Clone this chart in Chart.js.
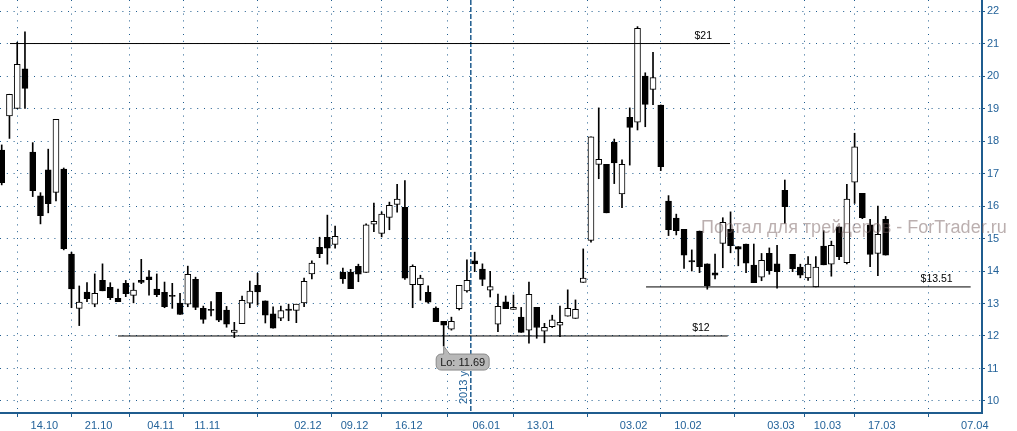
<!DOCTYPE html>
<html>
<head>
<meta charset="utf-8">
<script src="https://cdn.jsdelivr.net/npm/chart.js@4.4.1/dist/chart.umd.min.js"></script>
<style>
  html, body { margin: 0; padding: 0; background: #fff; }
  #wrap { width: 1017px; height: 431px; }
</style>
</head>
<body>
<div id="wrap"><canvas id="priceChart" width="1017" height="431"></canvas></div>
<script>
// daily candles, oldest first
const opens = [
  17.72, 18.77, 19.00, 20.22, 17.66, 16.31, 17.11, 16.42, 17.14, 14.52,
  12.85, 13.35, 12.98, 13.71, 13.50, 13.16, 13.62, 13.25, 13.71, 13.82,
  13.44, 13.34, 13.25, 13.01, 12.98, 13.74, 12.85, 12.82, 13.34, 12.80,
  12.11, 12.38, 13.01, 13.56, 13.08, 12.68, 12.55, 12.83, 12.79, 13.02,
  13.91, 14.73, 15.04, 14.82, 13.97, 13.97, 14.14, 13.96, 15.44, 15.16,
  15.65, 16.05, 15.96, 13.58, 13.58, 13.34, 12.86, 12.45, 12.21, 12.84,
  13.39, 14.31, 14.06, 13.41, 12.36, 13.05, 12.82, 12.58, 12.18, 12.88,
  12.15, 12.29, 12.33, 12.61, 12.54, 13.65, 14.94, 17.28, 17.28, 17.96,
  16.37, 18.73, 18.58, 20.00, 19.59, 19.11, 16.15, 15.63, 15.28, 14.32,
  15.23, 14.22, 13.94, 14.85, 15.28, 14.75, 14.83, 14.18, 13.81, 14.54,
  14.22, 16.48, 14.51, 14.12, 13.79, 13.51, 14.77, 14.21, 15.36, 14.26,
  16.73, 16.39, 15.42, 14.54, 15.59
];
const highs = [
  17.88, 19.44, 21.04, 21.36, 17.95, 16.41, 17.75, 18.67, 17.17, 14.58,
  13.54, 13.64, 13.91, 14.22, 13.64, 13.44, 13.71, 13.63, 14.36, 14.01,
  13.91, 13.66, 13.62, 13.31, 14.15, 13.81, 12.92, 13.06, 13.34, 12.91,
  12.42, 13.23, 13.69, 13.93, 13.08, 12.90, 12.92, 12.98, 12.98, 13.78,
  14.31, 15.04, 15.72, 15.38, 14.09, 14.05, 14.21, 15.45, 16.09, 15.82,
  16.12, 16.67, 16.78, 14.19, 13.87, 13.54, 12.90, 12.45, 12.58, 13.56,
  14.34, 14.58, 14.22, 13.99, 13.29, 13.23, 13.26, 12.88, 13.66, 12.88,
  12.39, 12.64, 12.92, 13.42, 13.11, 14.68, 18.13, 19.02, 17.28, 18.06,
  17.42, 19.02, 21.52, 20.10, 20.73, 19.11, 16.32, 15.75, 15.28, 14.65,
  15.23, 14.22, 14.52, 15.64, 15.82, 14.75, 14.83, 14.83, 14.54, 14.71,
  14.79, 16.80, 14.51, 14.21, 14.44, 14.44, 15.24, 14.92, 15.36, 16.67,
  18.24, 16.39, 15.59, 16.00, 15.68
];
const lows = [
  16.65, 18.08, 19.00, 19.00, 16.29, 15.45, 15.79, 16.16, 14.65, 12.87,
  12.32, 13.06, 12.90, 13.39, 13.12, 13.06, 13.21, 13.02, 13.61, 13.26,
  13.21, 12.87, 12.85, 12.66, 12.90, 12.81, 12.39, 12.62, 12.44, 12.27,
  11.95, 12.38, 12.87, 12.95, 12.40, 12.24, 12.47, 12.47, 12.41, 12.90,
  13.76, 14.41, 14.21, 14.70, 13.62, 13.46, 13.67, 13.96, 15.21, 15.05,
  15.27, 15.81, 13.74, 12.87, 13.10, 13.01, 12.44, 11.69, 12.18, 12.80,
  13.35, 13.98, 13.55, 13.20, 12.13, 12.84, 12.82, 12.11, 11.78, 11.93,
  11.79, 12.26, 11.98, 12.61, 12.54, 13.65, 14.89, 16.84, 15.79, 16.69,
  15.95, 17.26, 18.34, 18.44, 19.12, 17.09, 15.09, 15.11, 14.08, 14.00,
  13.95, 13.44, 13.76, 14.10, 14.56, 14.16, 13.95, 13.64, 13.70, 13.90,
  13.47, 15.47, 13.98, 13.79, 13.71, 13.51, 14.19, 13.84, 14.35, 14.22,
  16.08, 15.61, 14.13, 13.86, 14.49
];
const closes = [
  16.72, 19.44, 20.36, 19.62, 16.47, 15.70, 16.07, 18.67, 14.69, 13.45,
  13.04, 13.15, 13.31, 13.39, 13.18, 13.06, 13.30, 13.41, 13.65, 13.73,
  13.27, 12.90, 13.22, 12.66, 13.90, 12.88, 12.51, 12.79, 12.49, 12.36,
  12.18, 13.10, 13.38, 13.36, 12.64, 12.24, 12.78, 12.79, 12.98, 13.68,
  14.24, 14.53, 14.70, 15.07, 13.76, 13.46, 13.90, 15.42, 15.53, 15.75,
  16.02, 16.21, 13.78, 14.14, 13.78, 13.04, 12.44, 12.33, 12.45, 13.56,
  13.71, 14.22, 13.74, 13.52, 12.91, 12.84, 12.88, 12.11, 13.28, 12.26,
  12.27, 12.50, 12.42, 12.85, 12.82, 13.78, 18.13, 17.44, 15.79, 17.33,
  17.28, 18.42, 21.47, 19.13, 19.95, 17.21, 15.27, 15.24, 14.49, 14.28,
  14.13, 13.55, 13.87, 15.50, 14.78, 14.67, 14.24, 13.64, 14.33, 14.01,
  13.98, 15.98, 14.07, 13.87, 14.21, 14.12, 14.19, 14.79, 14.44, 16.21,
  17.82, 15.64, 14.51, 15.13, 14.49
];

// date ticks sit between candles (candle index units)
const tickLabels = ['14.10', '21.10', '04.11', '11.11', '02.12', '09.12', '16.12',
  '06.01', '13.01', '03.02', '10.02', '03.03', '10.03', '17.03', '07.04'];
const tickAt = [5.5, 12.5, 20.5, 26.5, 39.5, 45.5, 52.5,
  62.5, 69.5, 81.5, 88.5, 100.5, 106.5, 113.5, 125.5];

// horizontal levels drawn by hand on the chart
const levelLabels = ['$21', '$12', '$13.51'];
const levelValues = [21, 12, 13.51];
const levelFrom = [1.07, 15, 83.1];
const levelTo = [93.93, 93.63, 124.97];

const yearBreakAt = 60.5;
const yearLabel = '2013 year';
const watermark = 'Портал для трейдеров - ForTrader.ru';

const axisBlue = '#1f5c8e';
const labelBlue = '#24639a';
const fontFamily = '"Liberation Sans", Arial, sans-serif';

const idx = opens.map((o, i) => i);

const datasets = [
  {
    label: 'body',
    data: idx.map((i) => ({ x: i, y: [opens[i], closes[i]] })),
    backgroundColor: idx.map((i) => (closes[i] >= opens[i] ? '#ffffff' : '#000000')),
    borderColor: '#000000',
    borderWidth: 1,
    borderSkipped: false,
    barThickness: 6,
    minBarLength: 1,
    grouped: false,
    order: 1,
  },
  {
    label: 'wick',
    data: idx.map((i) => ({ x: i, y: [lows[i], highs[i]] })),
    backgroundColor: '#000000',
    borderWidth: 0,
    barThickness: 1,
    grouped: false,
    order: 2,
  },
];

levelValues.forEach((v, k) => {
  datasets.push({
    type: 'line',
    label: levelLabels[k],
    data: [{ x: levelFrom[k], y: v }, { x: levelTo[k], y: v }],
    borderColor: '#000000',
    borderWidth: 1,
    pointRadius: 0,
    order: 0,
  });
});

const overlayPlugin = {
  id: 'overlay',
  beforeDatasetsDraw(chart) {
    const { ctx, chartArea, scales } = chart;
    const px = scales.x.getPixelForValue(yearBreakAt);
    ctx.save();
    ctx.strokeStyle = axisBlue;
    ctx.lineWidth = 1.5;
    ctx.setLineDash([5, 2]);
    ctx.beginPath();
    ctx.moveTo(px, chartArea.top);
    ctx.lineTo(px, chartArea.bottom);
    ctx.stroke();
    ctx.setLineDash([]);
    // vertical year caption
    ctx.translate(px - 4, chartArea.bottom - 9);
    ctx.rotate(-Math.PI / 2);
    ctx.font = '11px ' + fontFamily;
    ctx.fillStyle = labelBlue;
    ctx.textAlign = 'left';
    ctx.textBaseline = 'alphabetic';
    ctx.fillText(yearLabel, 0, 0);
    ctx.restore();
  },
  afterDatasetsDraw(chart) {
    const { ctx, chartArea, scales } = chart;
    const x = scales.x, y = scales.y;
    ctx.save();

    // level captions
    ctx.font = '10.5px ' + fontFamily;
    ctx.fillStyle = '#000000';
    ctx.textAlign = 'right';
    ctx.textBaseline = 'alphabetic';
    levelValues.forEach((v, k) => {
      ctx.fillText(levelLabels[k], x.getPixelForValue(levelTo[k]) - 18, y.getPixelForValue(v) - 4.5);
    });

    // "Lo" callout at the lowest low
    const lowIdx = lows.indexOf(Math.min(...lows));
    const lx = x.getPixelForValue(lowIdx);
    const ly = y.getPixelForValue(lows[lowIdx]);
    const bw = 53, bh = 16;
    const bx = lx + 19 - bw / 2, by = ly + 8;
    ctx.fillStyle = '#b8b8b8';
    ctx.strokeStyle = '#8a8a8a';
    ctx.lineWidth = 1;
    ctx.beginPath();
    ctx.roundRect(bx, by, bw, bh, 5);
    ctx.fill();
    ctx.stroke();
    ctx.beginPath();
    ctx.moveTo(lx, ly);
    ctx.lineTo(lx, by + 1);
    ctx.lineTo(lx + 6, by + 1);
    ctx.closePath();
    ctx.fill();
    ctx.beginPath();
    ctx.moveTo(lx, by);
    ctx.lineTo(lx, ly);
    ctx.lineTo(lx + 6, by);
    ctx.stroke();
    ctx.fillStyle = '#1a1a1a';
    ctx.font = '11px ' + fontFamily;
    ctx.textAlign = 'center';
    ctx.textBaseline = 'middle';
    ctx.fillText('Lo: ' + lows[lowIdx].toFixed(2), bx + bw / 2, by + bh / 2 + 0.5);

    // watermark
    ctx.font = '18px ' + fontFamily;
    ctx.fillStyle = 'rgba(120, 95, 95, 0.5)';
    ctx.textAlign = 'left';
    ctx.textBaseline = 'alphabetic';
    ctx.fillText(watermark, chartArea.right - 281, 232.5);
    ctx.restore();
  },
};

const ctx = document.getElementById('priceChart').getContext('2d');
const priceChart = new Chart(ctx, {
  type: 'bar',
  data: { datasets: datasets },
  options: {
    responsive: false,
    animation: false,
    layout: { padding: 0 },
    plugins: {
      legend: { display: false },
      tooltip: { enabled: false },
    },
    scales: {
      x: {
        type: 'linear',
        min: -0.22,
        max: 126.43,
        offset: false,
        afterBuildTicks: (scale) => {
          scale.ticks = tickAt.map((v) => ({ value: v }));
        },
        afterFit: (scale) => {
          scale.height = 18;
          scale.paddingLeft = 0;
          scale.paddingRight = 0;
        },
        ticks: {
          autoSkip: false,
          maxRotation: 0,
          padding: 2,
          color: labelBlue,
          font: { family: fontFamily, size: 11 },
          callback: (value, index) => tickLabels[index],
        },
        grid: { color: axisBlue, tickLength: 4, tickColor: axisBlue },
        border: { color: axisBlue, width: 2, dash: [1, 5.8] },
      },
      y: {
        position: 'right',
        min: 9.63,
        max: 22.34,
        afterFit: (scale) => {
          scale.width = 35;
          scale.paddingTop = 0;
          scale.paddingBottom = 0;
        },
        ticks: {
          stepSize: 1,
          includeBounds: false,
          padding: 2,
          color: labelBlue,
          font: { family: fontFamily, size: 11 },
        },
        grid: { color: axisBlue, tickLength: 3, tickColor: axisBlue },
        border: { color: axisBlue, width: 2, dash: [1, 5.8] },
      },
    },
  },
  plugins: [overlayPlugin],
});
</script>
</body>
</html>
